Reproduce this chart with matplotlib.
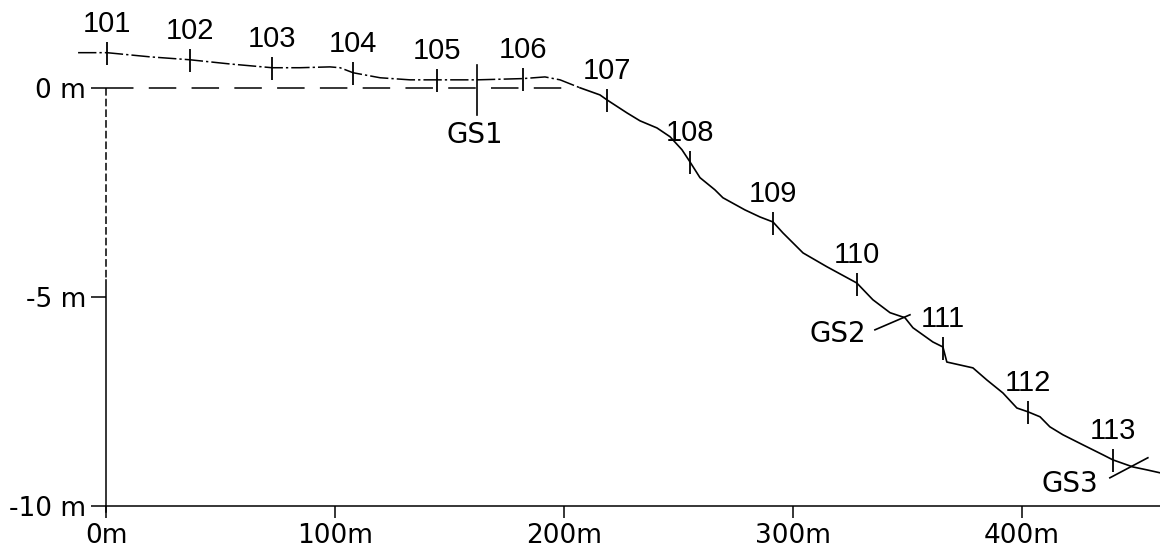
import numpy as np
import matplotlib.pyplot as plt

# stations along the section: chainage (m) and ground level (m)
stations = ["101", "102", "103", "104", "105", "106", "107",
            "108", "109", "110", "111", "112", "113"]
station_x = [0.4, 36.7, 72.5, 107.9, 144.5, 182.1, 218.8,
             255.0, 291.3, 327.9, 365.5, 402.6, 439.7]
station_z = [0.84, 0.67, 0.48, 0.36, 0.19, 0.22, -0.29,
             -1.77, -3.21, -4.67, -6.20, -7.75, -8.90]

# ground profile traced between stations
profile_x = [-12.2, 0.4, 19.2, 36.7, 54.1, 72.5, 84.7, 97.8, 102.2, 107.9,
             119.7, 132.8, 144.5, 162.0, 182.1, 191.7, 198.3, 207.0, 215.7,
             218.8, 227.5, 233.2, 240.6, 246.3, 251.5, 255.0, 259.4, 265.9,
             269.4, 279.0, 285.6, 291.3, 295.6, 304.4, 314.8, 327.9, 334.9,
             342.4, 348.9, 352.4, 361.1, 365.5, 367.2, 372.9, 378.6, 384.7,
             391.7, 397.8, 402.6, 407.9, 412.2, 417.9, 426.6, 435.4, 439.7,
             448.5, 454.6, 460.3]
profile_z = [0.84, 0.84, 0.74, 0.67, 0.57, 0.48, 0.48, 0.50, 0.48, 0.36,
             0.24, 0.19, 0.19, 0.19, 0.22, 0.26, 0.19, 0.0, -0.17,
             -0.29, -0.60, -0.79, -0.96, -1.17, -1.48, -1.77, -2.15, -2.44,
             -2.63, -2.92, -3.09, -3.21, -3.47, -3.95, -4.28, -4.67, -5.07,
             -5.38, -5.50, -5.74, -6.08, -6.20, -6.56, -6.63, -6.70, -6.99,
             -7.30, -7.66, -7.75, -7.87, -8.11, -8.30, -8.54, -8.78, -8.90,
             -9.07, -9.14, -9.21]

# gauging sections
gauges = ["GS1", "GS2", "GS3"]
gauge_x = [162.0, 348.9, 448.5]
gauge_z = [0.19, -5.50, -9.07]

x_ticks = [0, 100, 200, 300, 400]
x_labels = ["0m", "100m", "200m", "300m", "400m"]
y_ticks = [0, -5, -10]
y_labels = ["0 m", "-5 m", "-10 m"]

fig = plt.figure(figsize=(11.6, 5.56), dpi=100)
ax = fig.add_axes([0, 0, 1, 1])
ax.set_xlim(-46.3, 460.3)
ax.set_ylim(-11.2, 2.1)

px = np.array(profile_x)
pz = np.array(profile_z)
flat = px <= 207
steep = px >= 207
ax.plot(px[flat], pz[flat], color="k", lw=1.1, dashes=(12, 2, 1.5, 2))
ax.plot(px[steep], pz[steep], color="k", lw=1.2)

# datum line at 0 m
ax.plot([0, 201], [0, 0], color="k", lw=1.1, dashes=(18, 10))

# axes
for s in ["top", "right", "left"]:
    ax.spines[s].set_visible(False)
ax.spines["left"].set_position(("data", 0))
ax.spines["bottom"].set_position(("data", -10))
ax.spines["bottom"].set_bounds(0, 460.3)
ax.spines["bottom"].set_linewidth(1.1)
ax.plot([0, 0], [0, -4.6], color="k", lw=1.1, dashes=(5, 2))
ax.plot([0, 0], [-4.6, -10.15], color="k", lw=1.1)

ax.set_xticks(x_ticks, x_labels, fontsize=19)
ax.set_yticks(y_ticks, y_labels, fontsize=19)
ax.tick_params(axis="x", direction="out", length=8.6, width=1.1, pad=3.5)
ax.tick_params(axis="y", direction="out", length=11, width=1.1, pad=3.5)

# station marks and numbers
sx = np.array(station_x)
sz = np.array(station_z)
ax.vlines(sx, sz - 0.3, sz + 0.25, color="k", lw=1.3)
for name, x, z in zip(stations, sx, sz):
    ax.text(x, z + 0.68, name, ha="center", va="center",
            family="Liberation Sans", fontsize=21)

# gauging section marks
line_from = [(0.0, 0.36), (-13.1, -0.29), (-10.1, -0.26)]
line_to = [(0.0, -0.84), (2.2, 0.07), (6.5, 0.22)]
label_at = [(-1.0, -1.31), (-29.2, -0.39), (-27.5, -0.40)]
for i, name in enumerate(gauges):
    x, z = gauge_x[i], gauge_z[i]
    ax.plot([x + line_from[i][0], x + line_to[i][0]],
            [z + line_from[i][1], z + line_to[i][1]], color="k", lw=1.2)
    ax.text(x + label_at[i][0], z + label_at[i][1], name,
            ha="center", va="center", fontsize=20)

fig.savefig("out.png", dpi=100)
